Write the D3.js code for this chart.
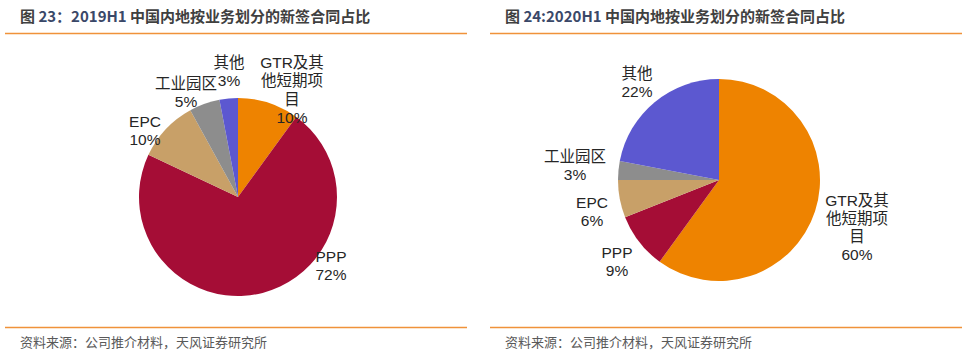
<!DOCTYPE html>
<html><head><meta charset="utf-8">
<script src="https://cdn.jsdelivr.net/npm/d3@7"></script>
<style>
html,body{margin:0;padding:0;background:#fff;}
svg{display:block;}
</style></head>
<body>
<svg id="c" width="967" height="355"></svg>
<script>
// ---- data ----
const categories = ["GTR及其他短期项目", "PPP", "EPC", "工业园区", "其他"];
const labelLines = [["GTR及其", "他短期项", "目"], ["PPP"], ["EPC"], ["工业园区"], ["其他"]];
const values2019H1 = [10, 72, 10, 5, 3];
const values2020H1 = [60, 9, 6, 3, 22];
const titles = [
  {pre: "图 ", num: "23：2019H1", post: " 中国内地按业务划分的新签合同占比"},
  {pre: "图 ", num: "24:2020H1", post: " 中国内地按业务划分的新签合同占比"}
];
const sourceText = "资料来源：公司推介材料，天风证券研究所";

// ---- layout / style ----
const colors = ["#EE8300", "#A50D36", "#C8A068", "#8D8D8D", "#5C58D0"];
const panels = [
  {x0: 5, x1: 467, cx: 238, cy: 197, r: 99, values: values2019H1, title: titles[0], lh: 18.5,
   labelOff: [[54, -135], [93, 59], [-93, -76], [-52, -114], [-9, -135]]},
  {x0: 490, x1: 962, cx: 719, cy: 180, r: 101, values: values2020H1, title: titles[1], lh: 18,
   labelOff: [[138, 20], [-102, 72], [-127, 22], [-144, -24], [-82, -107]]}
];

const svg = d3.select("#c");
const color = d3.scaleOrdinal().domain(categories).range(colors);
const pie = d3.pie().sort(null).value(d => d.v);

panels.forEach(p => {
  const g = svg.append("g");
  // title
  const t = g.append("text").attr("x", p.x0 + 15).attr("y", 22)
    .attr("font-family", "'Noto Sans CJK SC', sans-serif").attr("font-weight", "bold")
    .attr("font-size", 15).attr("fill", "#404040");
  t.append("tspan").text(p.title.pre);
  t.append("tspan").attr("fill", "#3A4868").text(p.title.num);
  t.append("tspan").text(p.title.post);
  // rules
  g.append("line").attr("x1", p.x0).attr("x2", p.x1).attr("y1", 33.5).attr("y2", 33.5)
    .attr("stroke", "#F0923A").attr("stroke-width", 1.5);
  g.append("line").attr("x1", p.x0).attr("x2", p.x1).attr("y1", 327.5).attr("y2", 327.5)
    .attr("stroke", "#F0923A").attr("stroke-width", 1.5);
  // source
  g.append("text").attr("x", p.x0 + 15).attr("y", 347)
    .attr("font-family", "'Noto Sans CJK SC', sans-serif").attr("font-size", 13)
    .attr("fill", "#595959").text(sourceText);

  // pie
  const data = categories.map((c, i) => ({c, v: p.values[i], i}));
  const arcs = pie(data);
  const arc = d3.arc().innerRadius(0).outerRadius(p.r);
  const pg = g.append("g").attr("transform", `translate(${p.cx},${p.cy})`);
  pg.selectAll("path").data(arcs).join("path")
    .attr("d", arc).attr("fill", d => color(d.data.c));

  // labels
  arcs.forEach(a => {
    const i = a.data.i;
    const lines = labelLines[i].concat([a.data.v + "%"]);
    const off = p.labelOff[i];
    const tx = pg.append("text").attr("text-anchor", "middle")
      .attr("font-family", "'Liberation Sans', Arial, 'Noto Sans CJK SC', sans-serif")
      .attr("font-size", 15.5).attr("fill", "#262626");
    lines.forEach((l, k) => {
      tx.append("tspan").attr("x", off[0]).attr("y", off[1] + k * p.lh)
        .attr("dy", "0.36em").text(l);
    });
  });
});
</script>
</body></html>
